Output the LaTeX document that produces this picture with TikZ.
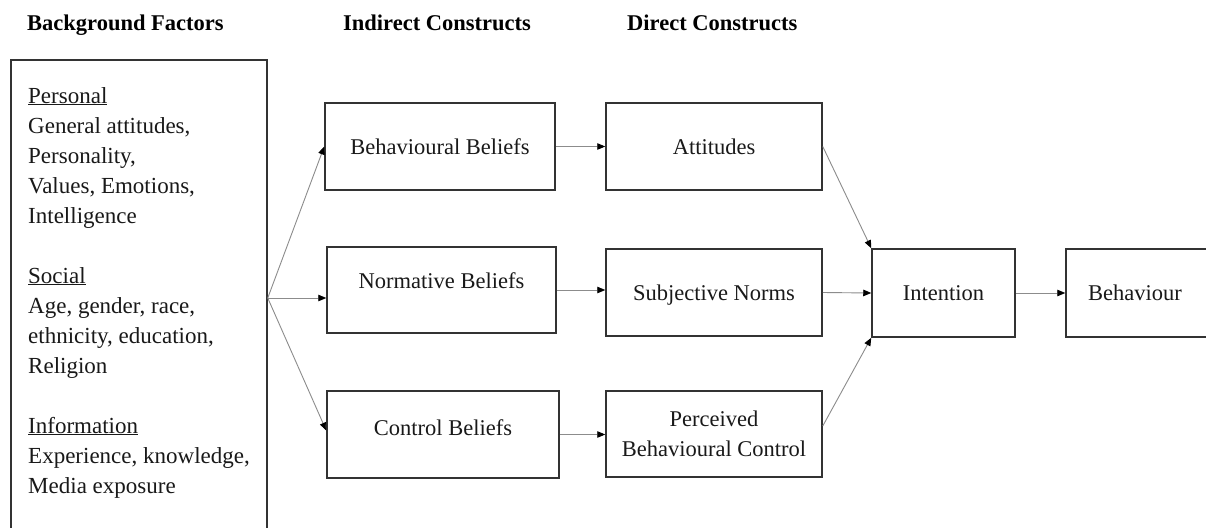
\documentclass[tikz,border=0pt]{standalone}
\usepackage{fontspec}
\setmainfont{Liberation Serif}
\usetikzlibrary{arrows.meta}
\tikzset{
  frame/.style={draw=black!80, line width=1.5pt, rectangle, inner sep=0pt,
    align=center, text=black!90, font=\fontsize{22.5}{30}\selectfont},
  oneline/.style={frame, text height=15pt, text depth=0pt},
  link/.style={draw=black!45, line width=0.9pt,
    -{Triangle[length=8pt,width=6.5pt,black]}},
  head/.style={anchor=base west, inner sep=0pt, text=black,
    font=\fontsize{22.5}{27}\selectfont\bfseries},
  bfline/.style={anchor=base west, inner sep=0pt, text=black!90,
    font=\fontsize{23}{30}\selectfont},
}
\begin{document}
\begin{tikzpicture}[x=1pt,y=-1pt]
\clip (0,0) rectangle (1206,527);
\fill[white] (0,0) rectangle (1206,527);

% column headings
\node[head] (hbg)  at (27,31)  {Background Factors};
\node[head] (hind) at (343,31) {Indirect Constructs};
\node[head] (hdir) at (627,31) {Direct Constructs};

% background factors panel (runs past the lower edge)
\node[frame, minimum width=256pt, minimum height=476pt] (bg) at (139,298) {};
\node[bfline] (p0) at (28,103) {\underline{Personal}};
\node[bfline] (p1) at (28,133) {General attitudes,};
\node[bfline] (p2) at (28,163) {Personality,};
\node[bfline] (p3) at (28,193) {Values, Emotions,};
\node[bfline] (p4) at (28,223) {Intelligence};
\node[bfline] (s0) at (28,283) {\underline{Social}};
\node[bfline] (s1) at (28,313) {Age, gender, race,};
\node[bfline] (s2) at (28,343) {ethnicity, education,};
\node[bfline] (s3) at (28,373) {Religion};
\node[bfline] (i0) at (28,433) {\underline{Information}};
\node[bfline] (i1) at (28,463) {Experience, knowledge,};
\node[bfline] (i2) at (28,493) {Media exposure};

% indirect constructs
\node[oneline, minimum width=230pt, minimum height=87pt] (bb) at (440,146.5) {Behavioural Beliefs};
\node[oneline, minimum width=229pt, minimum height=86pt, text depth=19pt] (nb) at (441.5,290) {Normative Beliefs};
\node[oneline, minimum width=232pt, minimum height=87pt, text depth=14pt] (cb) at (443,434.5) {Control Beliefs};

% direct constructs
\node[oneline, minimum width=216pt, minimum height=87pt] (att) at (714,146.5) {Attitudes};
\node[oneline, minimum width=216pt, minimum height=87pt] (sn) at (714,292.5) {Subjective Norms};
\node[frame, minimum width=216pt, minimum height=86pt] (pbc) at (714,434) {Perceived\\Behavioural Control};

% outcome (the last box runs past the right edge)
\node[oneline, minimum width=143pt, minimum height=88pt] (int) at (943.5,293) {Intention};
\node[oneline, minimum width=148pt, minimum height=88pt, text width=140pt, align=left] (beh) at (1140,293) {\hspace*{18pt}Behaviour};

% connectors
\draw[link] (bg.east) -- (bb.west);
\draw[link] (bg.east) -- (bg.east -| nb.west);
\draw[link] (bg.east) -- ([yshift=4pt]cb.west);
\draw[link] (bb.east) -- (att.west);
\draw[link] (nb.east) -- (nb.east -| sn.west);
\draw[link] (cb.east) -- (cb.east -| pbc.west);
\draw[link] (att.east) -- (int.north west);
\draw[link] (sn.east) -- (int.west);
\draw[link] ([yshift=8pt]pbc.east) -- (int.south west);
\draw[link] (int.east) -- (beh.west);
\end{tikzpicture}
\end{document}
